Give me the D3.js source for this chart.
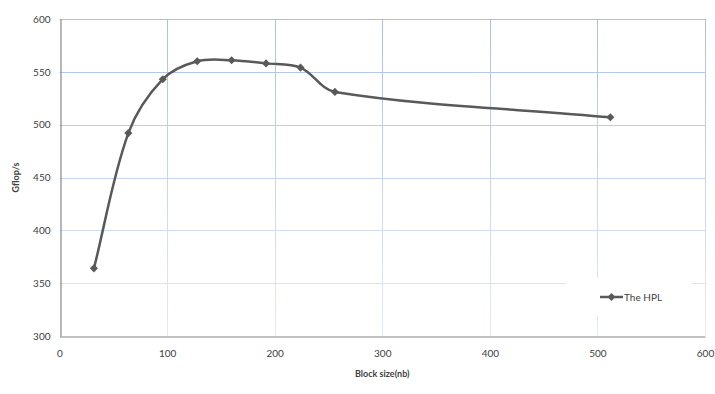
<!DOCTYPE html>
<html>
<head>
<meta charset="utf-8">
<script src="https://cdn.jsdelivr.net/npm/d3@7"></script>
<style>
  body { margin: 0; background: #fff; }
  text { font-family: "Lato", "Open Sans", sans-serif; fill: #404040; }
</style>
</head>
<body>
<div id="chart"></div>
<script>
// block sizes (nb) and measured performance
const blockSizes = [32, 64, 96, 128, 160, 192, 224, 256, 512];
const gflops = [364, 492, 543, 560, 561, 558, 554, 531, 507];
const seriesName = "The HPL";
const xTicks = [0, 100, 200, 300, 400, 500, 600];
const yTicks = [300, 350, 400, 450, 500, 550, 600];

const width = 715, height = 394;
const margin = {top: 19, right: 10, bottom: 58, left: 59.5};

// spreadsheet-style smoothing: Catmull-Rom tangents weighted by neighbour segment lengths
function curveSmoothSheet(context) {
  let pts;
  return {
    areaStart() {}, areaEnd() {},
    lineStart() { pts = []; },
    point(x, y) { pts.push([+x, +y]); },
    lineEnd() {
      const n = pts.length;
      if (!n) return;
      context.moveTo(pts[0][0], pts[0][1]);
      const dist = (a, b) => Math.hypot(b[0] - a[0], b[1] - a[1]);
      const ctrl = (i, dir) => {
        const p = pts[i];
        const prev = pts[Math.max(i - 1, 0)], next = pts[Math.min(i + 1, n - 1)];
        const lp = dist(prev, p), ln = dist(p, next), s = lp + ln || 1;
        const w = (dir > 0 ? ln : lp) / s / 1.5;
        return [p[0] + dir * (next[0] - prev[0]) * w / 2, p[1] + dir * (next[1] - prev[1]) * w / 2];
      };
      for (let i = 0; i < n - 1; i++) {
        const c1 = ctrl(i, 1), c2 = ctrl(i + 1, -1);
        context.bezierCurveTo(c1[0], c1[1], c2[0], c2[1], pts[i + 1][0], pts[i + 1][1]);
      }
    }
  };
}

const svg = d3.select("#chart").append("svg")
  .attr("width", width)
  .attr("height", height);

const x = d3.scaleLinear().domain([0, 600]).range([margin.left, width - margin.right]);
const y = d3.scaleLinear().domain([300, 600]).range([height - margin.bottom, margin.top]);

// gridlines fade towards the bottom
const grad = svg.append("defs").append("linearGradient")
  .attr("id", "gridFade")
  .attr("gradientUnits", "userSpaceOnUse")
  .attr("x1", 0).attr("x2", 0)
  .attr("y1", y(600)).attr("y2", y(300));
grad.append("stop").attr("offset", "0%").attr("stop-color", "#a9c0e6");
grad.append("stop").attr("offset", "100%").attr("stop-color", "#e4ebf7");

const grid = svg.append("g").attr("stroke", "url(#gridFade)").attr("stroke-width", 1);
grid.selectAll("line.h")
  .data(yTicks.slice(1))
  .join("line")
    .attr("x1", x(0)).attr("x2", x(600))
    .attr("y1", d => Math.round(y(d)) + 0.5)
    .attr("y2", d => Math.round(y(d)) + 0.5 + 0.001);
grid.selectAll("line.v")
  .data(xTicks.slice(1))
  .join("line")
    .attr("y1", y(600)).attr("y2", y(300))
    .attr("x1", d => Math.round(x(d)) + 0.5)
    .attr("x2", d => Math.round(x(d)) + 0.5 + 0.001);

// axes
const xAxis = svg.append("g")
  .attr("transform", `translate(0,${Math.round(y(300)) + 0.5})`)
  .call(d3.axisBottom(x).tickValues(xTicks).tickSize(0).tickPadding(13));
const yAxis = svg.append("g")
  .attr("transform", `translate(${Math.round(x(0)) + 0.5},0)`)
  .call(d3.axisLeft(y).tickValues(yTicks).tickSize(0).tickPadding(10));
[xAxis, yAxis].forEach(a => {
  a.select(".domain").attr("stroke", "#868686").attr("stroke-width", 1.2);
  a.selectAll("text").style("font-size", "10px").attr("fill", "#404040");
});

// axis titles
svg.append("text")
  .attr("x", (x(0) + x(600)) / 2).attr("y", 377)
  .attr("text-anchor", "middle")
  .style("font-size", "9px").style("font-weight", "bold")
  .text("Block size(nb)");
svg.append("text")
  .attr("transform", `translate(19,${(y(300) + y(600)) / 2}) rotate(-90)`)
  .attr("text-anchor", "middle")
  .style("font-size", "9px").style("font-weight", "bold")
  .text("Gflop/s");

// smoothed series line
const pts = blockSizes.map((b, i) => [b, gflops[i]]);
const line = d3.line()
  .x(d => x(d[0])).y(d => y(d[1]))
  .curve(curveSmoothSheet);
svg.append("path")
  .datum(pts)
  .attr("fill", "none")
  .attr("stroke", "#595959")
  .attr("stroke-width", 2.5)
  .attr("d", line);

const diamond = d3.symbol().type(d3.symbolDiamond2).size(42);
svg.selectAll("path.mk")
  .data(pts)
  .join("path")
    .attr("class", "mk")
    .attr("transform", d => `translate(${x(d[0])},${y(d[1])})`)
    .attr("d", diamond)
    .attr("fill", "#595959");

// legend
const lg = svg.append("g");
lg.append("rect")
  .attr("x", 566).attr("y", 278).attr("width", 126).attr("height", 38)
  .attr("fill", "#fff");
lg.append("line")
  .attr("x1", 600).attr("x2", 623).attr("y1", 297).attr("y2", 297)
  .attr("stroke", "#595959").attr("stroke-width", 2.5);
lg.append("path")
  .attr("transform", "translate(611.5,297)")
  .attr("d", diamond)
  .attr("fill", "#595959");
lg.append("text")
  .attr("x", 624).attr("y", 300.5)
  .style("font-size", "10px")
  .text(seriesName);
</script>
</body>
</html>
